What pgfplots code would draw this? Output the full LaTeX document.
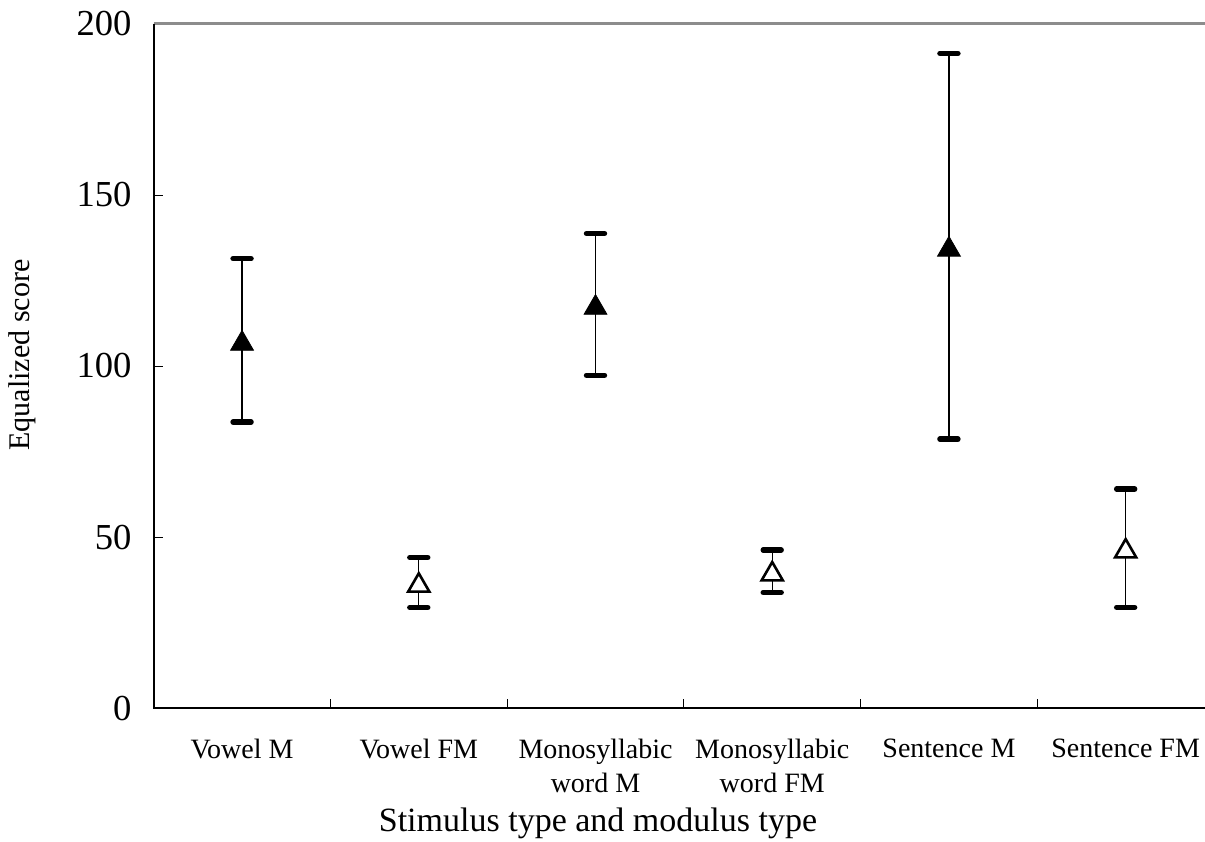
\documentclass[border=0pt]{standalone}
\usepackage{fontspec}
\setmainfont{Liberation Serif}
\usepackage{pgfplots}
\usepackage{pgfplotstable}
\pgfplotsset{compat=1.18}
\pgfplotstableread{
x y e
0 107.5 23.9
2 118.0 20.7
4 135.0 56.4
}\mtab
\pgfplotstableread{
x y e
1 36.7 7.3
3 40.0 6.2
5 46.7 17.3
}\fmtab
\begin{document}
\begin{tikzpicture}
\begin{axis}[
  scale only axis, width=530.15pt, height=342pt,
  xmin=-0.5, xmax=5.5, ymin=0, ymax=200,
  axis line style={draw=none},
  xtick={0,...,5},
  xticklabels={Vowel M, Vowel FM, Monosyllabic\\word M, Monosyllabic\\word FM, Sentence M, Sentence FM},
  minor xtick={0.5,1.5,...,4.5},
  ytick={0,50,...,200},
  minor ytick={0,50,...,200},
  xtick pos=lower, ytick pos=left,
  major tick length=0pt,
  minor tick length=4.5pt,
  tick align=inside,
  minor tick style={black, line width=0.5pt},
  /pgf/number format/assume math mode=true,
  xticklabel style={font=\fontsize{14}{17}\selectfont, align=center, yshift=-12pt},
  yticklabel style={font=\fontsize{18.3}{21}\selectfont, xshift=-7.6pt},
  xlabel={Stimulus type and modulus type},
  xlabel style={font=\fontsize{17}{20}\selectfont, at={(rel axis cs:0.419,-0.1842)}, anchor=base, yshift=1.2pt},
  ylabel={Equalized score},
  ylabel style={font=\fontsize{15}{18}\selectfont, at={(rel axis cs:-0.1242,0.516)}, anchor=center},
  clip=false,
]
\draw[color=black!45, line width=1.5pt] (rel axis cs:0,1) -- (rel axis cs:1,1) -- (rel axis cs:1,0);
\draw[black, line width=1pt] (rel axis cs:0,1) -- (rel axis cs:0,0) -- (rel axis cs:1,0);
% error bars
\addplot[forget plot, only marks, mark=none,
  error bars/.cd, y dir=both, y explicit,
  error bar style={draw=black, line width=0.6pt},
  error mark=|, error mark options={draw=black, line width=2.7pt, line cap=round, mark size=4.5pt}]
  table[x=x, y=y, y error=e] {\mtab};
\addplot[forget plot, only marks, mark=none,
  error bars/.cd, y dir=both, y explicit,
  error bar style={draw=black, line width=0.6pt},
  error mark=|, error mark options={draw=black, line width=2.7pt, line cap=round, mark size=4.5pt}]
  table[x=x, y=y, y error=e] {\fmtab};
% markers
\addplot[only marks, mark=triangle*, mark size=6.6pt,
  mark options={fill=black, draw=none, yshift=-1.65pt}]
  table[x=x, y=y] {\mtab};
\addplot[only marks, mark=triangle*, mark size=6.1pt,
  mark options={fill=white, draw=black, line width=1.3pt, yshift=-1.5pt}]
  table[x=x, y=y] {\fmtab};
\coordinate (ll) at (rel axis cs:0,0);
\coordinate (ur) at (rel axis cs:1,1);
\end{axis}
\pgfresetboundingbox
\useasboundingbox ([xshift=-76.85pt,yshift=-66.5pt]ll) rectangle ([xshift=-4.5pt,yshift=12pt]ur);
\end{tikzpicture}
\end{document}
